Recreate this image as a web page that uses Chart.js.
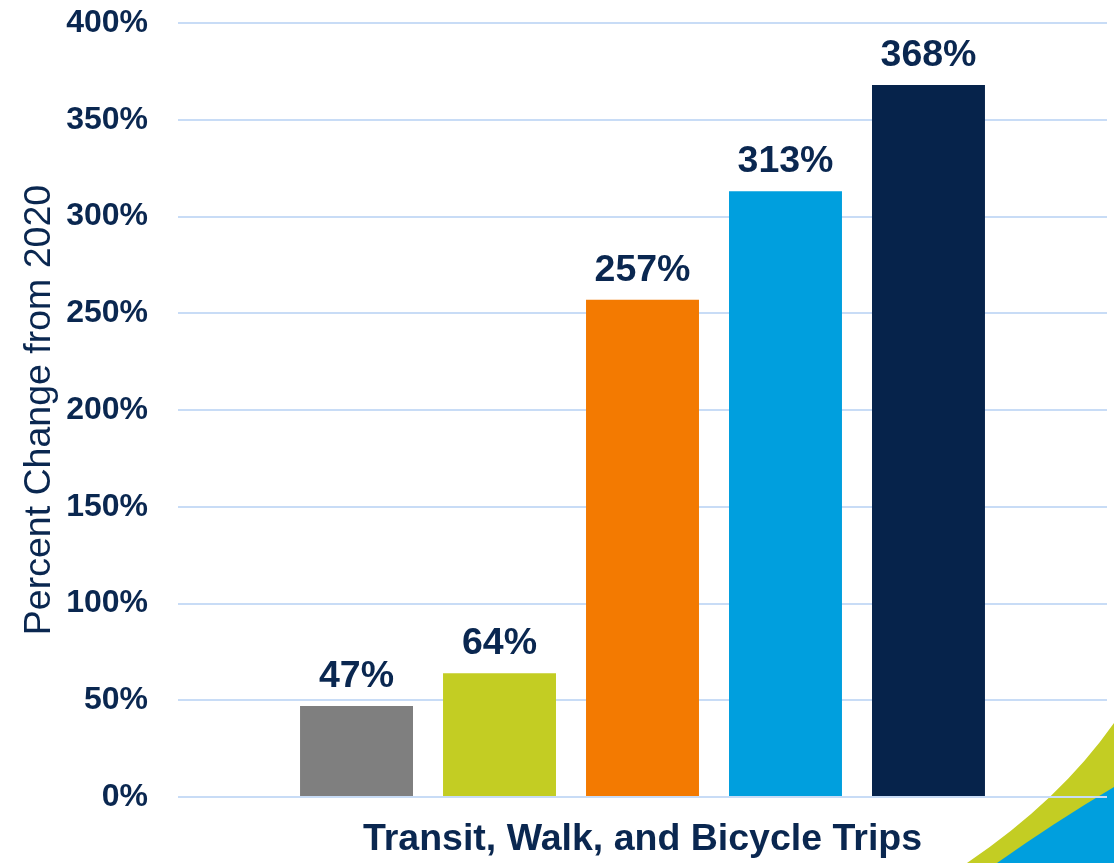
<!DOCTYPE html>
<html>
<head>
<meta charset="utf-8">
<script src="https://cdn.jsdelivr.net/npm/chart.js@4"></script>
<style>
  html, body { margin: 0; padding: 0; background: #fff; }
  #wrap { width: 1114px; height: 863px; }
</style>
</head>
<body>
<div id="wrap"><canvas id="grafica" width="1114" height="863"></canvas></div>
<script>
// chart data
const categories = ['Transit, Walk, and Bicycle Trips'];
const seriesNames = ['Series 1', 'Series 2', 'Series 3', 'Series 4', 'Series 5'];
const seriesValues = [47, 64, 257, 313, 368];
const barColors = ['#7f7f7f', '#c3cd23', '#f37a01', '#009fde', '#06234b'];
const yTicks = [0, 50, 100, 150, 200, 250, 300, 350, 400];

const navy = '#0a2750';
const font = "'Liberation Sans', Arial, sans-serif";

// value labels above each bar
const barLabels = {
  id: 'barLabels',
  afterDatasetsDraw(chart) {
    const ctx = chart.ctx;
    ctx.save();
    ctx.font = 'bold 37.5px ' + font;
    ctx.fillStyle = navy;
    ctx.textAlign = 'center';
    ctx.textBaseline = 'alphabetic';
    chart.data.datasets.forEach((ds, i) => {
      chart.getDatasetMeta(i).data.forEach((bar, j) => {
        ctx.fillText(ds.data[j] + '%', bar.x, bar.y - 19);
      });
    });
    ctx.restore();
  }
};

// corner swoosh decoration
const swoosh = {
  id: 'swoosh',
  beforeDraw(chart) {
    const ctx = chart.ctx;
    const w = chart.width, h = chart.height;
    ctx.save();
    ctx.fillStyle = '#c3cd23';
    ctx.beginPath();
    ctx.moveTo(w - 147, h);
    ctx.quadraticCurveTo(w - 54, h - 63, w, h - 140);
    ctx.lineTo(w, h);
    ctx.closePath();
    ctx.fill();
    ctx.fillStyle = '#009fde';
    ctx.beginPath();
    ctx.moveTo(w - 117, h);
    ctx.quadraticCurveTo(w - 59, h - 41, w, h - 76);
    ctx.lineTo(w, h);
    ctx.closePath();
    ctx.fill();
    ctx.restore();
  }
};

const graph = document.getElementById('grafica');
const myChart = new Chart(graph, {
  type: 'bar',
  data: {
    labels: categories,
    datasets: seriesValues.map((v, i) => ({
      label: seriesNames[i],
      data: [v],
      backgroundColor: barColors[i],
      categoryPercentage: 0.7696,
      barPercentage: 0.79,
    })),
  },
  options: {
    responsive: false,
    animation: false,
    events: [],
    layout: { padding: { top: 0, right: 7, left: 0, bottom: 0 } },
    plugins: {
      legend: { display: false },
      tooltip: { enabled: false },
    },
    scales: {
      x: {
        grid: { display: false },
        border: { display: false },
        ticks: { display: false },
        title: {
          display: true,
          text: categories[0],
          color: navy,
          font: { family: font, size: 37.5, weight: 'bold' },
          padding: { top: 0, bottom: 1 },
        },
        afterFit(scale) { scale.height = 66; },
      },
      y: {
        min: 0,
        max: 400,
        afterBuildTicks(scale) { scale.ticks = yTicks.map(v => ({ value: v })); },
        grid: { color: '#c8dcf6', lineWidth: 2, drawTicks: false },
        border: { display: false },
        ticks: {
          padding: 30,
          color: navy,
          font: { family: font, size: 32, weight: 'bold' },
          callback: v => v + '%',
        },
        title: {
          display: true,
          text: 'Percent Change from 2020',
          color: navy,
          font: { family: font, size: 37.5 },
          padding: { top: 17, bottom: 0 },
        },
        afterFit(scale) {
          scale.width = 178;
          scale.paddingTop = 23;
          scale.paddingBottom = 0;
        },
      },
    },
  },
  plugins: [swoosh, barLabels],
});
</script>
</body>
</html>
